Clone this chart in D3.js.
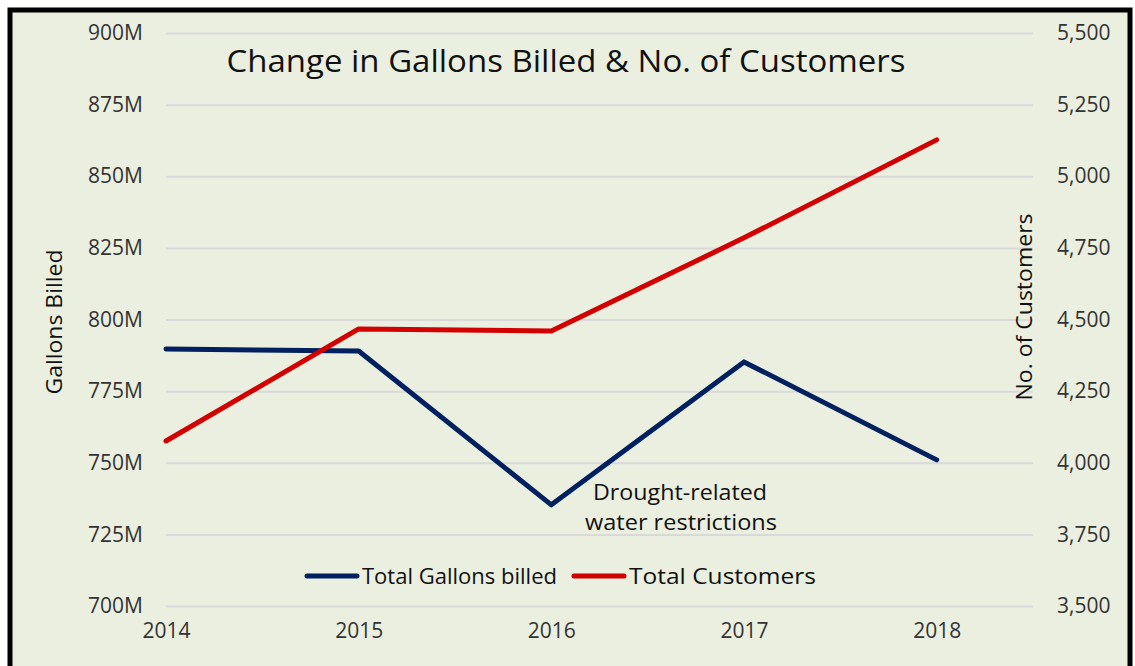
<!DOCTYPE html>
<html>
<head>
<meta charset="utf-8">
<script src="https://cdn.jsdelivr.net/npm/d3@7"></script>
<style>
  html, body { margin: 0; padding: 0; background: #fff; }
  svg { display: block; font-family: 'Open Sans', 'Noto Sans', sans-serif; }
</style>
</head>
<body>
<div id="chart"></div>
<script>
// data
const years = [2014, 2015, 2016, 2017, 2018];
const gallonsBilled = [789.7, 789.0, 735.3, 785.2, 751.0]; // millions
const totalCustomers = [4076, 4467, 4460, 4785, 5127];
const leftTicks = [700, 725, 750, 775, 800, 825, 850, 875, 900];
const rightTicks = [3500, 3750, 4000, 4250, 4500, 4750, 5000, 5250, 5500];

const width = 1135, height = 666;
const plot = { left: 166, right: 1033, top: 33, bottom: 606 };

const svg = d3.select('#chart')
  .append('svg')
  .attr('width', width)
  .attr('height', height);

// frame
svg.append('rect')
  .attr('x', 10).attr('y', 10)
  .attr('width', 1120).attr('height', 700)
  .attr('fill', '#ebefe0')
  .attr('stroke', '#000')
  .attr('stroke-width', 5);

const x = d3.scaleLinear()
  .domain([2014, 2018.5])
  .range([plot.left, plot.right]);
const yLeft = d3.scaleLinear()
  .domain([700, 900])
  .range([plot.bottom, plot.top]);
const yRight = d3.scaleLinear()
  .domain([3500, 5500])
  .range([plot.bottom, plot.top]);

// gridlines + left axis
const leftAxis = svg.append('g')
  .attr('transform', 'translate(' + plot.left + ',0)')
  .call(d3.axisLeft(yLeft)
    .tickValues(leftTicks)
    .tickSize(-(plot.right - plot.left))
    .tickPadding(23)
    .tickFormat(d => d + 'M'));
leftAxis.select('.domain').remove();
leftAxis.selectAll('line').attr('stroke', '#d9d9d9').attr('stroke-width', 2);
leftAxis.selectAll('text')
  .attr('font-size', 21).attr('fill', '#333')
  .attr('font-family', "'Open Sans', sans-serif");

// right axis
const rightAxis = svg.append('g')
  .attr('transform', 'translate(' + plot.right + ',0)')
  .call(d3.axisRight(yRight)
    .tickValues(rightTicks)
    .tickSize(0)
    .tickPadding(24)
    .tickFormat(d3.format(',')));
rightAxis.select('.domain').remove();
rightAxis.selectAll('text')
  .attr('font-size', 21).attr('fill', '#333')
  .attr('font-family', "'Open Sans', sans-serif");

// bottom axis (labels only)
const bottomAxis = svg.append('g')
  .attr('transform', 'translate(0,' + plot.bottom + ')')
  .call(d3.axisBottom(x)
    .tickValues(years)
    .tickSize(0)
    .tickPadding(17)
    .tickFormat(d3.format('d')));
bottomAxis.select('.domain').remove();
bottomAxis.selectAll('text')
  .attr('font-size', 21).attr('fill', '#333')
  .attr('font-family', "'Open Sans', sans-serif");

// lines
const gallonsLine = d3.line()
  .x((d, i) => x(years[i]))
  .y(d => yLeft(d));
const customersLine = d3.line()
  .x((d, i) => x(years[i]))
  .y(d => yRight(d));

svg.append('path')
  .datum(gallonsBilled)
  .attr('fill', 'none')
  .attr('stroke', '#002060')
  .attr('stroke-width', 5)
  .attr('stroke-linejoin', 'round')
  .attr('stroke-linecap', 'round')
  .attr('d', gallonsLine);

svg.append('path')
  .datum(totalCustomers)
  .attr('fill', 'none')
  .attr('stroke', '#d20000')
  .attr('stroke-width', 5)
  .attr('stroke-linejoin', 'round')
  .attr('stroke-linecap', 'round')
  .attr('d', customersLine);

// title
svg.append('text')
  .attr('x', 566).attr('y', 72)
  .attr('text-anchor', 'middle')
  .attr('font-size', 31)
  .attr('fill', '#111')
  .attr('textLength', 679)
  .attr('lengthAdjust', 'spacingAndGlyphs')
  .text('Change in Gallons Billed & No. of Customers');

// axis titles
svg.append('text')
  .attr('transform', 'translate(62,322) rotate(-90)')
  .attr('text-anchor', 'middle')
  .attr('font-size', 22)
  .attr('fill', '#111')
  .attr('textLength', 145)
  .attr('lengthAdjust', 'spacingAndGlyphs')
  .text('Gallons Billed');

svg.append('text')
  .attr('transform', 'translate(1032,307) rotate(-90)')
  .attr('text-anchor', 'middle')
  .attr('font-size', 22)
  .attr('fill', '#111')
  .attr('textLength', 187)
  .attr('lengthAdjust', 'spacingAndGlyphs')
  .text('No. of Customers');

// annotation
const note = svg.append('text')
  .attr('text-anchor', 'middle')
  .attr('font-size', 22)
  .attr('fill', '#111');
note.append('tspan').attr('x', 680).attr('y', 500)
  .attr('textLength', 174).attr('lengthAdjust', 'spacingAndGlyphs')
  .text('Drought-related');
note.append('tspan').attr('x', 681).attr('y', 530)
  .attr('textLength', 192).attr('lengthAdjust', 'spacingAndGlyphs')
  .text('water restrictions');

// legend
const legendItems = [
  { label: 'Total Gallons billed', color: '#002060', x: 307, w: 195 },
  { label: 'Total Customers', color: '#d20000', x: 574, w: 187 }
];
const legend = svg.append('g');
legendItems.forEach(function(item) {
  legend.append('line')
    .attr('x1', item.x).attr('x2', item.x + 50)
    .attr('y1', 576).attr('y2', 576)
    .attr('stroke', item.color)
    .attr('stroke-width', 5)
    .attr('stroke-linecap', 'round');
  legend.append('text')
    .attr('x', item.x + 55).attr('y', 584)
    .attr('font-size', 22)
    .attr('fill', '#111')
    .attr('textLength', item.w)
    .attr('lengthAdjust', 'spacingAndGlyphs')
    .text(item.label);
});
</script>
</body>
</html>
